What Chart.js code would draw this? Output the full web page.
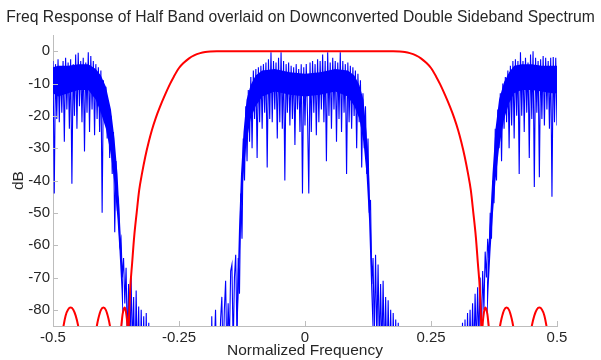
<!DOCTYPE html>
<html><head><meta charset="utf-8">
<script src="https://cdn.jsdelivr.net/npm/chart.js@4.4.1/dist/chart.umd.min.js"></script>
<style>html,body{margin:0;padding:0;background:#fff;}#wrap{width:601px;height:360px;}</style>
</head><body><div id="wrap"><canvas id="c" width="601" height="360"></canvas></div>
<script>
const titleText = "Freq Response of Half Band overlaid on Downconverted Double Sideband Spectrum";
const xLabel = "Normalized Frequency";
const yLabel = "dB";
const xTicks = [-0.5, -0.25, 0, 0.25, 0.5];
const yTicks = [0, -10, -20, -30, -40, -50, -60, -70, -80];

// Downconverted double sideband spectrum (dB), uniform frequency grid
const spectrumStart = -0.5;
const spectrumStep = 0.0025;
const spectrumDb = [
-3,-44,-4,-21,-2.5,-22,-5,-19,-3,-28,
-2,-18,-3.5,-24,-2.5,-41,-4,-20,-1,-24,
-0.5,-17,-3,-22,-2,-31,-3.5,-19,-0.3,-25,
-1.5,-18,-3,-26,-4,-21,-5,-25,-6,-50,
-9,-22,-11,-27,-16,-33,-20,-38,-25,-56,
-34,-48,-46,-60,-58,-70,-64,-78,-67,-90,
-72,-95,-70,-92,-76,-100,-74,-98,-79,-105,
-80,-100,-82,-106,-81,-110,-84,-112,-115,-120,
-118,-110,-122,-115,-108,-120,-112,-125,-116,-110,
-119,-113,-121,-109,-117,-124,-111,-118,-115,-122,
-110,-116,-123,-112,-119,-108,-121,-114,-117,-111,
-120,-115,-109,-123,-113,-118,-110,-122,-116,-112,
-115,-120,-110,-118,-112,-118,-82,-105,-92,-80,
-102,-86,-98,-83,-76,-97,-80,-71,-95,-78,
-90,-68,-66,-92,-70,-63,-88,-64,-75,-44,
-58,-27,-40,-17,-34,-12,-28,-8,-30,-6,
-21,-5.5,-33,-5,-22,-4.5,-24,-4,-19,-3.5,
-36,-2.5,-21,-0.3,-22,-3,-18,-3.5,-27,-2,
-22,-0.3,-24,-3,-40,-4,-19,-3.5,-23,-4.5,
-21,-5,-29,-4,-18,-5.5,-25,-4,-44,-5,
-23,-4,-20,-44,-3.5,-25,-3,-19,-4,-26,
-2.5,-22,-3,-18,-1,-22,-3,-34,-0.3,-20,
-3.5,-24,-2,-18,-3,-28,-3.5,-21,-0.3,-25,
-3,-19,-4,-38,-3.5,-22,-4.5,-24,-5,-20,
-6,-30,-7,-22,-9,-36,-13,-30,-17,-38,
-27,-50,-46,-72,-64,-88,-63,-90,-66,-92,
-72,-94,-71,-96,-76,-100,-77,-98,-80,-104,
-81,-100,-83,-110,-84,-112,-115,-120,-118,-110,
-122,-115,-108,-120,-112,-125,-116,-110,-119,-113,
-121,-109,-117,-124,-111,-118,-115,-122,-110,-116,
-123,-112,-119,-108,-121,-114,-117,-111,-120,-115,
-109,-123,-113,-118,-110,-122,-116,-112,-115,-120,
-115,-118,-112,-120,-110,-84,-108,-83,-104,-81,
-100,-80,-98,-78,-95,-75,-92,-73,-90,-70,
-88,-68,-80,-62,-70,-58,-64,-50,-58,-40,
-47,-24,-40,-18,-30,-13,-34,-10,-24,-8,
-22,-6,-30,-4.5,-23,-3,-27,-2.5,-20,-3,
-38,-0.3,-20,-3,-25,-2,-19,-3.5,-33,-1,
-21,0,-42,-2,-19,-3,-39,-2.5,-21,-1.5,
-23,-2,-18,-3,-24,-2,-45,-1.8,-22,-2,
-23
];

// Dense core of the spectrum (where the trace overlaps into a solid mass)
const bodyFreq = [
-0.5,-0.49,-0.47,-0.45,-0.43,-0.415,-0.405,-0.395,-0.385,-0.378,-0.372,-0.368,-0.364,-0.361,
-0.25,
-0.136,-0.131,-0.127,-0.122,-0.116,-0.108,-0.098,-0.085,-0.06,-0.03,0,0.03,0.06,0.085,0.098,0.108,0.116,0.122,0.127,0.131,0.136,
0.25,
0.361,0.364,0.368,0.372,0.378,0.385,0.395,0.405,0.415,0.43,0.45,0.47,0.49,0.5
];
const bodyUpper = [
-5,-4.5,-4.5,-4,-4,-5.5,-7.5,-11,-18,-27,-38,-50,-62,-72,
null,
-85,-55,-38,-25,-15,-10.5,-7.5,-6,-5.5,-6.5,-7,-6.5,-5.5,-6,-7.5,-10.5,-15,-25,-38,-55,-85,
null,
-72,-62,-50,-38,-24,-15,-9.5,-6.5,-4.5,-4,-4,-4.5,-4.5,-4.5
];
const bodyLower = [
-13,-14,-13,-12,-12,-15,-19,-24,-32,-41,-52,-62,-74,-86,
null,
-95,-72,-52,-38,-28,-21,-17,-14,-12.5,-13.5,-14,-13.5,-12.5,-14,-17,-21,-28,-38,-52,-72,-95,
null,
-86,-74,-62,-52,-40,-30,-21,-16,-13,-12,-12,-12.5,-13,-13
];

// Half band filter frequency response
const filterFreq = [
-0.5,-0.49,-0.485,-0.482,-0.48,-0.475,-0.47,-0.465,-0.46,-0.455,-0.45,-0.447,-0.442,-0.432,
-0.422,-0.417,-0.413,-0.41,-0.405,-0.4,-0.395,-0.39,-0.387,-0.383,-0.377,
-0.371,-0.367,-0.3645,-0.362,-0.3595,-0.358,-0.3565,-0.354,-0.352,-0.3508,
-0.3497,-0.347,-0.343,-0.339,-0.334,-0.329,-0.323,-0.317,-0.31,-0.304,-0.296,-0.288,
-0.278,-0.268,-0.26,-0.25,-0.24,-0.23,-0.22,-0.208,-0.198,-0.188,-0.175,
0.175,0.188,0.198,0.208,0.22,0.23,0.24,0.25,0.26,0.268,0.278,
0.288,0.296,0.304,0.31,0.317,0.323,0.329,0.334,0.339,0.343,0.347,0.3497,
0.3508,0.352,0.354,0.3565,0.358,0.3595,0.362,0.3645,0.367,0.371,
0.377,0.383,0.387,0.39,0.395,0.4,0.405,0.41,0.413,0.417,0.422,
0.432,0.442,0.447,0.45,0.455,0.46,0.465,0.47,0.475,0.48,0.482,0.485,0.49,0.5
];
const filterDb = [
-110,-100,-92,-88,-85.8,-81.8,-79.9,-79.3,-79.9,-81.8,-85,-88,-96,-110,
-96,-89,-85,-82.7,-80.1,-79.3,-80.1,-82.7,-85,-89,-98,
-95,-88,-85,-81.5,-79.7,-79.3,-79.7,-82,-86,-93,
-85,-74,-65.6,-57.5,-50,-43,-37.5,-32.7,-28,-24.5,-20.6,-17.3,
-13.6,-10.2,-7.8,-5.2,-3.5,-2.2,-1.3,-0.6,-0.25,-0.08,0,
0,-0.08,-0.25,-0.6,-1.3,-2.2,-3.5,-5.2,-7.8,-10.2,-13.6,
-17.3,-20.6,-24.5,-28,-32.7,-37.5,-43,-50,-57.5,-65.6,-74,-85,
-93,-86,-82,-79.7,-79.3,-79.7,-81.5,-85,-88,-95,
-98,-89,-85,-82.7,-80.1,-79.3,-80.1,-82.7,-85,-89,-96,
-110,-96,-88,-85,-81.8,-79.9,-79.3,-79.9,-81.8,-85.8,-88,-92,-100,-110
];

const FONT = "'Liberation Sans', Arial, Helvetica, sans-serif";
const TXT = '#262626';
const AXIS = '#bdbdbd';
const BLUE = '#0000ff';

const innerTicks = {
  id: 'innerTicks',
  afterDraw(chart) {
    const {ctx, chartArea: a, scales: {x, y}} = chart;
    ctx.save();
    ctx.strokeStyle = AXIS;
    ctx.lineWidth = 1;
    ctx.beginPath();
    xTicks.forEach(v => {
      const px = Math.round(x.getPixelForValue(v)) + 0.5;
      ctx.moveTo(px, a.bottom); ctx.lineTo(px, a.bottom - 5);
    });
    yTicks.forEach(v => {
      const py = Math.round(y.getPixelForValue(v)) + 0.5;
      ctx.moveTo(a.left, py); ctx.lineTo(a.left + 5, py);
    });
    ctx.stroke();
    ctx.restore();
  }
};

new Chart(document.getElementById('c'), {
  type: 'line',
  data: {
    datasets: [
      {
        label: 'Half Band',
        data: filterFreq.map((f, i) => ({x: f, y: filterDb[i]})),
        borderColor: '#ff0000', borderWidth: 2, pointRadius: 0,
        cubicInterpolationMode: 'monotone', fill: false, order: 0
      },
      {
        label: 'Spectrum',
        data: spectrumDb.map((v, i) => ({x: spectrumStart + i * spectrumStep, y: v})),
        borderColor: BLUE, borderWidth: 1.1, pointRadius: 0,
        tension: 0, fill: false, order: 1
      },
      {
        label: 'core upper',
        data: bodyFreq.map((f, i) => ({x: f, y: bodyUpper[i]})),
        borderWidth: 0, borderColor: BLUE, backgroundColor: BLUE, pointRadius: 0,
        spanGaps: false, fill: '+1', order: 2
      },
      {
        label: 'core lower',
        data: bodyFreq.map((f, i) => ({x: f, y: bodyLower[i]})),
        borderWidth: 0, borderColor: BLUE, backgroundColor: BLUE, pointRadius: 0,
        spanGaps: false, fill: false, order: 3
      }
    ]
  },
  options: {
    responsive: false, animation: false, events: [],
    layout: {padding: {left: 0, right: 0, top: 0, bottom: 0}},
    plugins: {
      legend: {display: false}, tooltip: {enabled: false},
      filler: {propagate: false},
      title: {display: true, text: titleText, color: TXT,
        font: {family: FONT, size: 15.7, weight: 'normal'}, padding: {top: 8.5, bottom: 7.7}}
    },
    scales: {
      x: {
        type: 'linear', min: -0.5, max: 0.5,
        afterBuildTicks: s => { s.ticks = xTicks.map(v => ({value: v})); },
        afterFit: s => { s.height = 34; },
        grid: {display: false, drawTicks: false},
        border: {display: true, color: AXIS, width: 1},
        ticks: {padding: 3, color: TXT, font: {family: FONT, size: 15}, maxRotation: 0, autoSkip: false,
          callback: v => String(v)},
        title: {display: true, text: xLabel, color: TXT, font: {family: FONT, size: 15.5}, padding: {top: 0, bottom: 0}}
      },
      y: {
        type: 'linear', min: -85, max: 5,
        afterBuildTicks: s => { s.ticks = yTicks.map(v => ({value: v})); },
        afterFit: s => { s.width = 53; },
        grid: {display: false, drawTicks: false},
        border: {display: true, color: AXIS, width: 1},
        ticks: {padding: 3, color: TXT, font: {family: FONT, size: 15}, autoSkip: false,
          callback: v => String(v)},
        title: {display: true, text: yLabel, color: TXT, font: {family: FONT, size: 15.5}, padding: {top: 9.5, bottom: 0}}
      },
      rightSpace: {
        type: 'linear', position: 'right', display: true,
        afterFit: s => { s.width = 44; },
        grid: {display: false, drawTicks: false},
        border: {display: false},
        ticks: {display: false}
      }
    }
  },
  plugins: [innerTicks]
});
</script>
</body></html>
